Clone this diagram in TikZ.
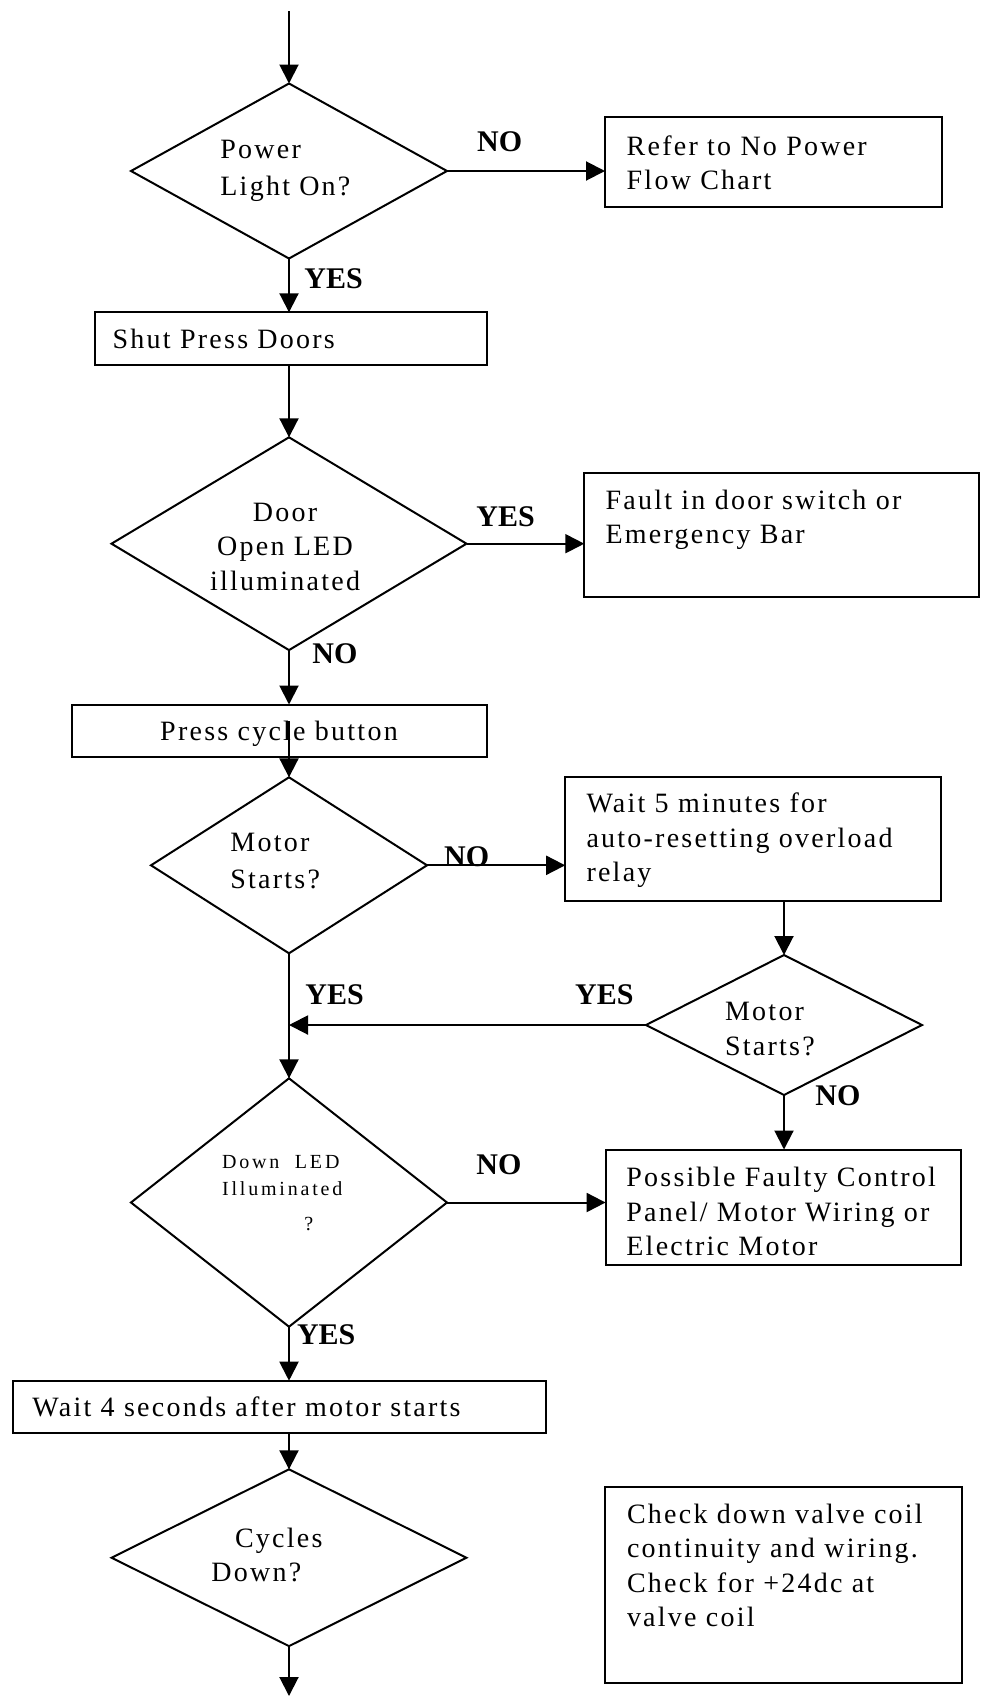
\documentclass[tikz,border=0pt]{standalone}
\usepackage{fontspec}
\usepackage{tikz}
\usetikzlibrary{arrows.meta,shapes.geometric}
\setmainfont{Liberation Serif}
\newfontfamily\boxfont{Liberation Serif}[LetterSpace=8]
\newfontfamily\smallfont{Liberation Serif}[LetterSpace=14]

\begin{document}
\begin{tikzpicture}[x=0.5pt,y=-0.5pt,
  flow/.style={line width=1pt,-{Triangle[length=9.5pt,width=9.5pt]}},
  decision/.style={draw,diamond,line width=1pt,inner sep=0pt,outer sep=0pt},
  stepbox/.style={draw,line width=1pt,inner ysep=0pt,outer sep=0pt,align=left,anchor=north west,
    font=\boxfont\fontsize{14}{17.25}\selectfont},
  qtext/.style={inner sep=0pt,align=left,anchor=base west,font=\boxfont\fontsize{14}{17.25}\selectfont},
  answer/.style={inner sep=0pt,anchor=base west,font=\bfseries\fontsize{15}{18}\selectfont}]
\useasboundingbox (0,0) rectangle (981,1697);
% decisions
\node[decision,minimum width=158pt,minimum height=87.5pt] (d1) at (289,171) {};
\node[decision,minimum width=177.5pt,minimum height=106.4pt] (d2) at (289,543.7) {};
\node[decision,minimum width=138pt,minimum height=88pt] (d3) at (289,865.3) {};
\node[decision,minimum width=138pt,minimum height=70pt] (d4) at (784,1025) {};
\node[decision,minimum width=158pt,minimum height=124.2pt] (d5) at (289,1202.5) {};
\node[decision,minimum width=177.4pt,minimum height=88.4pt] (d6) at (289,1557.7) {};
% question texts (anchored on their last line)
\node[qtext] (d1t) at (220,195) {Power\\[1.25pt]Light On?};
\node[qtext,align=center,anchor=base] (d2t) at (285,590) {Door\\Open LED\\illuminated};
\node[qtext] (d3t) at (230,888) {Motor\\[0.9pt]Starts?};
\node[qtext] (d4t) at (724.7,1055) {Motor\\Starts?};
\node[qtext,font=\smallfont\fontsize{10}{13.35}\selectfont] (d5t) at (221.7,1230)
  {Down~~LED\\Illuminated\\[4.15pt]\hspace*{41.15pt}?};
\node[qtext] (d6t) at (211,1581.7) {\hspace*{11.85pt}Cycles\\Down?};
% boxes
\node[stepbox,inner xsep=10.85pt,text width=146.65pt,text height=18.85pt,text depth=25.85pt]
  (refer) at (605,117.3) {Refer to No Power\\Flow Chart};
\node[stepbox,inner xsep=8.85pt,text width=178.15pt,text height=17.85pt,text depth=8.5pt]
  (shut) at (95,312.3) {Shut Press Doors};
\node[stepbox,inner xsep=10.65pt,text width=176.05pt,text height=18.3pt,text depth=43.7pt]
  (fault) at (584.3,472.7) {Fault in door switch or\\Emergency Bar};
\node[stepbox,align=center,inner xsep=5pt,text width=197.5pt,text height=17.75pt,text depth=8.35pt]
  (press) at (71.5,704.5) {Press cycle button};
\node[stepbox,inner xsep=10.65pt,text width=166.6pt,text height=17.7pt,text depth=44.15pt]
  (wait5) at (565.2,777.3) {Wait 5 minutes for\\auto-resetting~overload\\relay};
\node[stepbox,inner xsep=10.4pt,text width=156.9pt,text height=18.6pt,text depth=39.15pt]
  (possible) at (605.6,1149.5) {Possible~Faulty~Control\\Panel/ Motor Wiring or\\Electric Motor};
\node[stepbox,inner xsep=10pt,text width=246.9pt,text height=18pt,text depth=8.3pt]
  (wait4) at (12.5,1380.7) {Wait 4 seconds after motor starts};
\node[stepbox,inner xsep=11pt,text width=156.5pt,text height=18.15pt,text depth=79.85pt]
  (check) at (605,1486.7) {Check~down~valve~coil\\continuity and wiring.\\Check for +24dc at\\valve coil};
% answers
\node[answer] (a1) at (476.7,151.7) {NO};
\node[answer] (a2) at (304,288.3) {YES};
\node[answer] (a3) at (476,526.7) {YES};
\node[answer] (a4) at (312,663.3) {NO};
\node[answer] (a5) at (443.8,866.7) {NO};
\node[answer] (a6) at (305,1004) {YES};
\node[answer] (a7) at (574.7,1004) {YES};
\node[answer] (a8) at (815,1105.7) {NO};
\node[answer] (a9) at (476,1174) {NO};
\node[answer] (a10) at (296.6,1344) {YES};
% connectors
\coordinate (top) at (289,11);
\coordinate (pc) at (289,721);
\coordinate (bottom) at (289,1696);
\coordinate (join) at (d4.west -| d3.south);
\draw[flow] (top) -- (d1.north);
\draw[flow] (d1.east) -- (d1.east -| refer.west);
\draw[flow] (d1.south) -- (d1.south |- shut.north);
\draw[flow] (d1.south |- shut.south) -- (d2.north);
\draw[flow] (d2.east) -- (d2.east -| fault.west);
\draw[flow] (d2.south) -- (d2.south |- press.north);
\draw[flow] (pc) -- (d3.north);
\draw[flow] (d3.east) -- (d3.east -| wait5.west);
\draw[flow] (d4.north |- wait5.south) -- (d4.north);
\draw[flow] (d4.west) -- (join);
\draw[flow] (d3.south) -- (d5.north);
\draw[flow] (d4.south) -- (d4.south |- possible.north);
\draw[flow] (d5.east) -- (d5.east -| possible.west);
\draw[flow] (d5.south) -- (d5.south |- wait4.north);
\draw[flow] (d6.north |- wait4.south) -- (d6.north);
\draw[flow] (d6.south) -- (bottom);
\end{tikzpicture}
\end{document}
